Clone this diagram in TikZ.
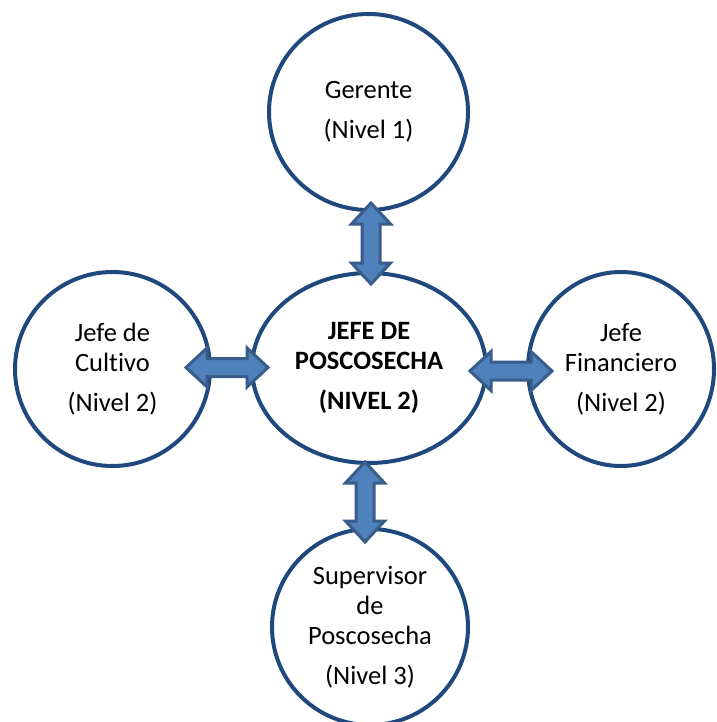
\documentclass[tikz,border=0pt]{standalone}
\usepackage{fontspec}
\setmainfont[Ligatures=NoCommon]{Carlito}
\usetikzlibrary{shapes.geometric,calc}
\definecolor{ringblue}{HTML}{1F497D}
\definecolor{arrowfill}{HTML}{4F81BD}
\definecolor{arrowedge}{HTML}{385D8A}
\begin{document}
\begin{tikzpicture}[x=1pt,y=1pt,
  role/.style={ellipse, draw=ringblue, line width=4pt, fill=white,
    inner sep=0pt, outer sep=0pt, align=center,
    font=\fontsize{26.5}{30}\selectfont},
  % double-headed block arrow drawn between two points
  link/.style={draw=arrowedge, fill=arrowfill, line width=3pt, line join=miter,
    to path={let \p1=(\tikztostart), \p2=(\tikztotarget),
      \n1={atan2(\y2-\y1,\x2-\x1)}, \n2={veclen(\x2-\x1,\y2-\y1)} in
      [shift={(\p1)}, rotate=\n1]
      (0,0) -- (21,19.5) -- (21,9) -- (\n2-21,9) -- (\n2-21,19.5) -- (\n2,0)
      -- (\n2-21,-19.5) -- (\n2-21,-9) -- (21,-9) -- (21,-19.5) -- cycle}}]
\clip (0,0) rectangle (716,-722);
\fill[white] (0,0) rectangle (716,-722);

% people
\node[role, minimum width=199pt, minimum height=196pt] (ger) at (368.5,-112)
  {Gerente\\[10pt](Nivel 1)};
\node[role, minimum width=234pt, minimum height=190pt, font=\fontsize{26.5}{30}\selectfont\bfseries] (boss) at (369,-368)
  {JEFE DE\\POSCOSECHA\\[10pt](NIVEL 2)};
\node[role, minimum width=195pt, minimum height=194pt] (cul) at (112.5,-369)
  {Jefe de\\Cultivo\\[10pt](Nivel 2)};
\node[role, minimum width=186pt, minimum height=194pt] (fin) at (621,-369)
  {Jefe\\Financiero\\[10pt](Nivel 2)};
\node[role, minimum width=196pt, minimum height=196pt] (sup) at (370,-627)
  {Supervisor\\de\\Poscosecha\\[10pt](Nivel 3)};

% arrow end points
\coordinate (a1) at ($(ger.south)+(2.5,7)$);
\coordinate (a2) at ($(boss.north)+(2,-11)$);
\coordinate (b1) at ($(boss.south)+(-4,1)$);
\coordinate (b2) at ($(sup.north)+(-5,-13)$);
\coordinate (c1) at ($(cul.east)+(-24,1.5)$);
\coordinate (c2) at ($(boss.west)+(16,0.5)$);
\coordinate (d1) at ($(boss.east)+(-16,-3)$);
\coordinate (d2) at ($(fin.west)+(24,-2)$);

% links
\draw[link] (a1) to (a2);
\draw[link] (b1) to (b2);
\draw[link] (c1) to (c2);
\draw[link] (d1) to (d2);
\end{tikzpicture}
\end{document}
